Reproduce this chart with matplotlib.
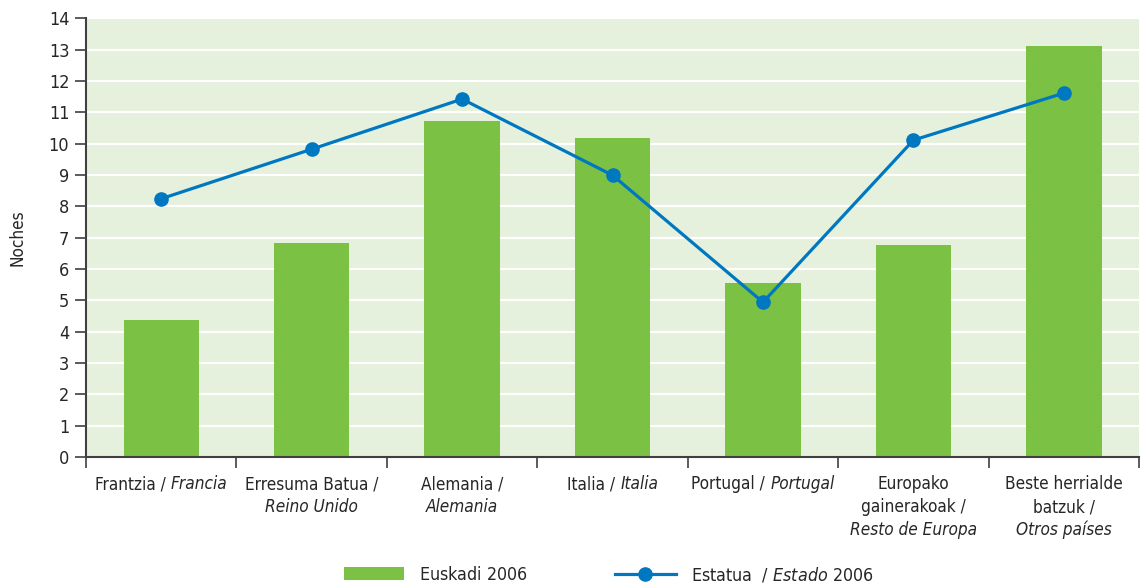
import matplotlib
matplotlib.use("Agg")
import matplotlib.pyplot as plt
from matplotlib.patches import Patch
from matplotlib.lines import Line2D
from matplotlib.ticker import FixedLocator

plt.rcParams['font.family'] = ['DejaVu Sans']
plt.rcParams['font.stretch'] = 'condensed'
plt.rcParams['mathtext.fontset'] = 'custom'
plt.rcParams['mathtext.rm'] = 'DejaVu Sans:stretch=condensed'
plt.rcParams['mathtext.it'] = 'DejaVu Sans:italic:stretch=condensed'

# category labels: each line is a list of (text, italic) pieces
categories = [
    [[("Frantzia /", False), ("Francia", True)]],
    [[("Erresuma Batua /", False)], [("Reino Unido", True)]],
    [[("Alemania /", False)], [("Alemania", True)]],
    [[("Italia /", False), ("Italia", True)]],
    [[("Portugal /", False), ("Portugal", True)]],
    [[("Europako", False)], [("gainerakoak /", False)], [("Resto de Europa", True)]],
    [[("Beste herrialde", False)], [("batzuk /", False)], [("Otros países", True)]],
]
euskadi_2006 = [4.37, 6.82, 10.71, 10.17, 5.55, 6.76, 13.1]
estado_2006 = [8.24, 9.82, 11.42, 8.99, 4.94, 10.11, 11.61]
yticks = list(range(0, 15))

BAR_COLOR = '#7BC143'
LINE_COLOR = '#0077C1'
BG_COLOR = '#E6F1DD'
AXIS_COLOR = '#404040'
TEXT_COLOR = '#262626'
LABEL_SIZE = 12.3

fig = plt.figure(figsize=(11.46, 5.86), dpi=100)
ax = fig.add_axes([0.075, 0.22, 0.919, 0.749])
ax.set_facecolor(BG_COLOR)

x = list(range(len(categories)))
ax.bar(x, euskadi_2006, width=0.5, color=BAR_COLOR, zorder=2)
ax.plot(x, estado_2006, color=LINE_COLOR, linewidth=2.3, marker='o',
        markersize=9.5, zorder=3)

ax.set_xlim(-0.5, len(categories) - 0.5)
ax.set_ylim(0, 14)
ax.set_yticks(yticks)
ax.yaxis.grid(True, color='white', linewidth=1.5, zorder=1)
ax.set_axisbelow(True)

# x ticks sit on the category boundaries, labels are drawn by hand below
ax.set_xticks([])
ax.xaxis.set_minor_locator(FixedLocator([i - 0.5 for i in range(len(categories) + 1)]))
ax.tick_params(axis='x', which='minor', length=8, width=1.2, color=AXIS_COLOR, direction='out')
ax.tick_params(axis='y', length=8, width=1.2, color=AXIS_COLOR, labelsize=13,
               labelcolor=TEXT_COLOR, pad=4)

for side in ['top', 'right']:
    ax.spines[side].set_visible(False)
for side in ['left', 'bottom']:
    ax.spines[side].set_color(AXIS_COLOR)
    ax.spines[side].set_linewidth(1.5)

ax.set_ylabel("Noches", fontsize=12.3, labelpad=16, color=TEXT_COLOR)

# mixed upright / italic category labels
renderer = fig.canvas.get_renderer()
first_baseline = 32   # pixels below the x axis
line_pitch = 23
gap = 0.3 * LABEL_SIZE * 100 / 72
for i, lines in enumerate(categories):
    for j, pieces in enumerate(lines):
        y_off = -(first_baseline + j * line_pitch)
        texts = []
        for txt, italic in pieces:
            t = ax.annotate(txt, xy=(i, 0), xycoords='data', xytext=(0, y_off),
                            textcoords='offset pixels', ha='left', va='baseline',
                            fontsize=LABEL_SIZE, color=TEXT_COLOR,
                            fontstyle='italic' if italic else 'normal',
                            annotation_clip=False)
            texts.append(t)
        widths = [t.get_window_extent(renderer).width for t in texts]
        total = sum(widths) + gap * (len(texts) - 1)
        cur = -total / 2
        for t, w in zip(texts, widths):
            t.set_position((cur, y_off))
            cur += w + gap

handles = [
    Patch(facecolor=BAR_COLOR, edgecolor='none'),
    Line2D([0], [0], color=LINE_COLOR, linewidth=2.3, marker='o', markersize=9.5),
]
labels = ["$\\mathrm{Euskadi\\ 2006}$", "$\\mathrm{Estatua\\ \\ /\\ }\\it{Estado}\\mathrm{\\ 2006}$"]
leg = fig.legend(handles, labels, loc='lower center', bbox_to_anchor=(0.531, -0.024),
                 ncol=2, frameon=False, fontsize=12.8, handlelength=3.4,
                 handleheight=0.75, columnspacing=4.9, handletextpad=0.85)
for t in leg.get_texts():
    t.set_color(TEXT_COLOR)

plt.savefig("out.png", dpi=100)
plt.close()
